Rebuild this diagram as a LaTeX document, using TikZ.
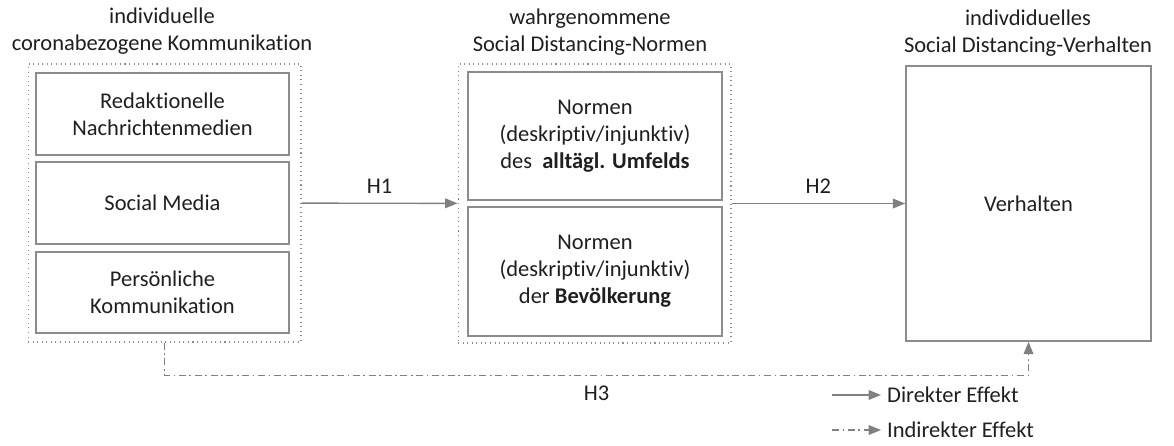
\documentclass[tikz,border=0pt]{standalone}
\usepackage{fontspec}
\setmainfont{Carlito}[RawFeature={-liga;-calt}]
\usetikzlibrary{arrows.meta,positioning}
\definecolor{rahmen}{HTML}{8C8C8C}
\definecolor{pfeil}{HTML}{808080}
\definecolor{schrift}{HTML}{1F1F1F}

\begin{document}
\begin{tikzpicture}[x=0.02cm,y=-0.02cm,
  every node/.style={text=schrift,font=\fontsize{12.8}{15.4}\selectfont,align=center},
  kasten/.style={draw=rahmen,line width=0.9pt,inner sep=0pt},
  gruppe/.style={draw=rahmen,dotted,line width=0.6pt,inner sep=0pt},
  direkt/.style={draw=pfeil,line width=0.8pt,-{Triangle[length=7pt,width=5.5pt]}},
  indirekt/.style={direkt,dash pattern=on 4pt off 2pt on 1pt off 2pt}]
\useasboundingbox (0,0) rectangle (1174,446);
% Kommunikation
\node[gruppe,minimum width=5.46cm,minimum height=5.56cm] (komm) at (164.5,203) {};
\node[kasten,minimum width=5.06cm,minimum height=1.64cm] (redak) at (162.5,114) {Redaktionelle\\Nachrichtenmedien};
\node[kasten,minimum width=5.06cm,minimum height=1.64cm] (social) at (162.5,203) {Social Media};
\node[kasten,minimum width=5.06cm,minimum height=1.62cm] (persoen) at (162.5,292.5) {Persönliche\\Kommunikation};
\node (tkomm) at (162,31) {individuelle\\coronabezogene Kommunikation};
% Normen
\node[gruppe,minimum width=5.46cm,minimum height=5.58cm] (normen) at (594.5,203.5) {};
\node[kasten,minimum width=5.08cm,minimum height=2.56cm] (umfeld) at (595,136) {Normen\\(deskriptiv/injunktiv)\\des \ \textbf{alltägl. Umfelds}};
\node[kasten,minimum width=5.08cm,minimum height=2.58cm] (bevoelk) at (595,271.5) {Normen\\(deskriptiv/injunktiv)\\der \textbf{Bevölkerung}};
\node (tnormen) at (590,32) {wahrgenommene\\Social Distancing-Normen};
% Verhalten
\node[kasten,minimum width=4.9cm,minimum height=5.5cm] (verh) at (1028.5,203.5) {Verhalten};
\node (tverh) at (1028,33) {indivdiduelles\\Social Distancing-Verhalten};
% Effekte
\draw[direkt] (komm) -- (normen) node[midway,above=2pt] {H1};
\draw[direkt] (normen) -- (verh) node[midway,above=2pt] {H2};
\draw[indirekt] (komm.south) -- ++(0,33) -| (verh.south) node[pos=0.25,below=2pt] {H3};
% Legende
\coordinate (ldir1) at (832,395);
\coordinate (lind1) at (832,430);
\node[anchor=west] (ldir) at (881,395) {Direkter Effekt};
\node[anchor=west] (lind) at (881,430) {Indirekter Effekt};
\draw[direkt] (ldir1) -- (ldir);
\draw[indirekt] (lind1) -- (lind);
\end{tikzpicture}
\end{document}
